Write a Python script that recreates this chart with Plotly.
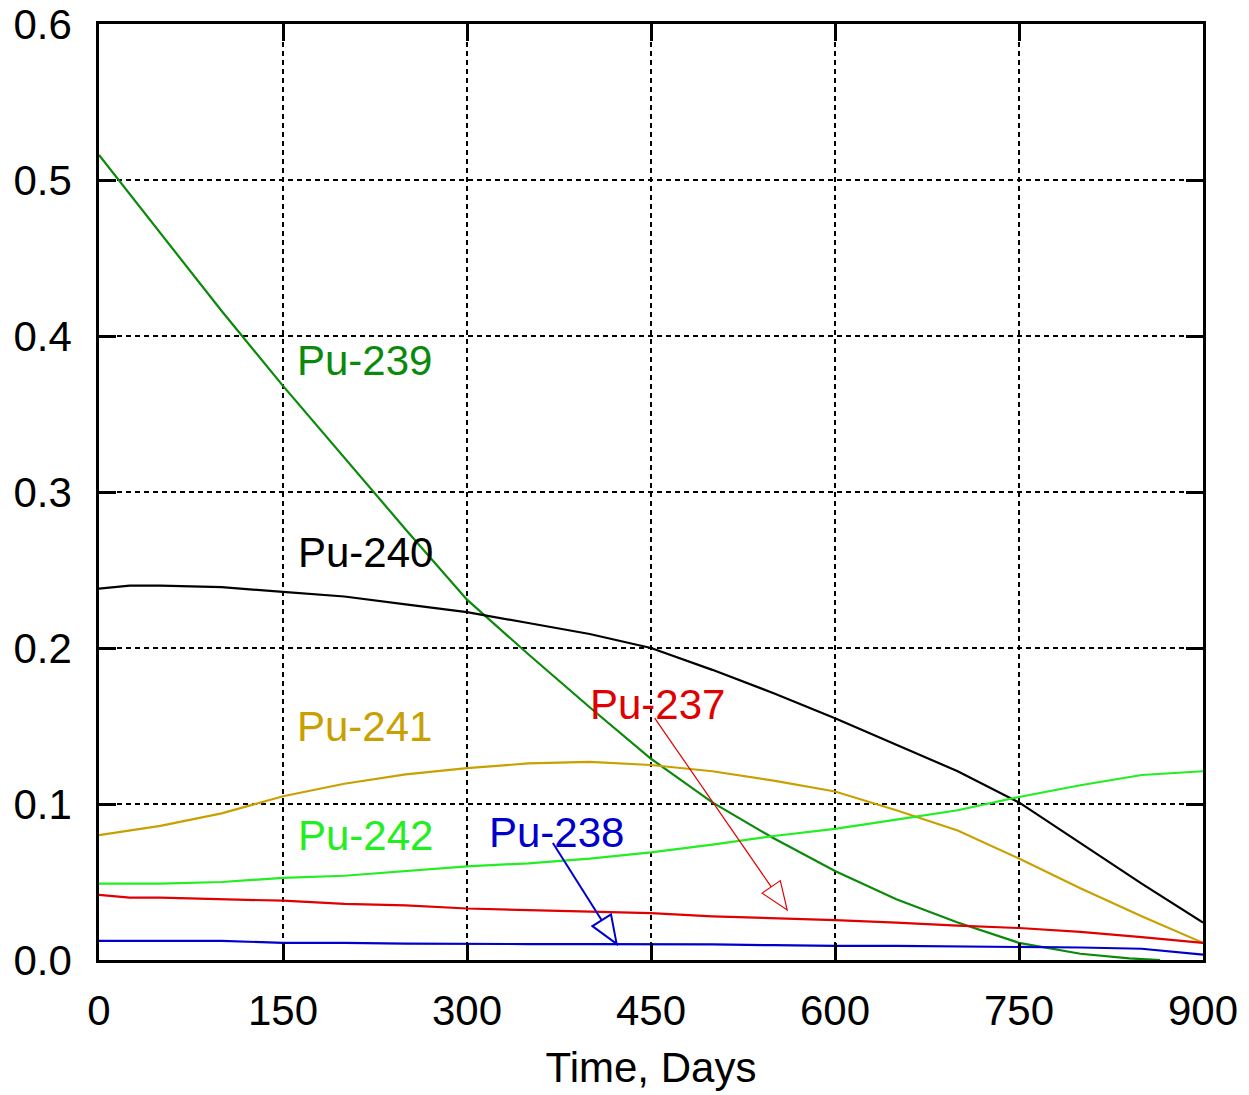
import plotly.graph_objects as go
import math

days = [0, 25, 50, 100, 150, 200, 250, 300, 350, 400, 450, 500, 550, 600, 650, 700, 750, 800, 850, 900]

pu239_days = [0, 25, 50, 100, 150, 200, 250, 300, 350, 400, 450, 500, 550, 600, 650, 700, 750, 800, 840, 865]
pu239 = [0.516, 0.491, 0.466, 0.416, 0.368, 0.322, 0.276, 0.231, 0.196, 0.162, 0.129, 0.101, 0.078, 0.057, 0.039, 0.024, 0.011, 0.004, 0.001, 0.0]
pu240 = [0.238, 0.240, 0.240, 0.239, 0.236, 0.233, 0.228, 0.223, 0.216, 0.209, 0.200, 0.186, 0.171, 0.155, 0.138, 0.121, 0.101, 0.075, 0.049, 0.024]
pu241 = [0.080, 0.083, 0.086, 0.094, 0.105, 0.113, 0.119, 0.123, 0.126, 0.127, 0.125, 0.121, 0.115, 0.108, 0.096, 0.083, 0.065, 0.046, 0.028, 0.011]
pu242 = [0.049, 0.049, 0.049, 0.050, 0.0526, 0.054, 0.057, 0.060, 0.062, 0.065, 0.069, 0.074, 0.0795, 0.084, 0.090, 0.096, 0.1045, 0.112, 0.1186, 0.121]
pu237 = [0.0417, 0.040, 0.040, 0.039, 0.038, 0.036, 0.035, 0.033, 0.032, 0.031, 0.030, 0.028, 0.027, 0.0256, 0.024, 0.022, 0.0205, 0.018, 0.0147, 0.011]
pu238 = [0.0122, 0.0122, 0.0122, 0.0122, 0.011, 0.011, 0.0105, 0.0102, 0.0102, 0.0102, 0.0102, 0.010, 0.0095, 0.009, 0.009, 0.0087, 0.0085, 0.008, 0.0072, 0.0035]

series = [
    ("Pu-239", pu239_days, pu239, "#0a8a0a"),
    ("Pu-240", days, pu240, "#000000"),
    ("Pu-241", days, pu241, "#c8a000"),
    ("Pu-242", days, pu242, "#22ee22"),
    ("Pu-237", days, pu237, "#e00000"),
    ("Pu-238", days, pu238, "#0000cc"),
]

# label positions (data coords)
labels = [
    ("Pu-239", 160, 0.384, "#0a8a0a"),
    ("Pu-240", 161, 0.261, "#000000"),
    ("Pu-241", 160, 0.1494, "#c8a000"),
    ("Pu-242", 161, 0.0795, "#22ee22"),
    ("Pu-238", 316, 0.082, "#0000cc"),
    ("Pu-237", 399, 0.164, "#e00000"),
]

# arrows: (tail_x, tail_y, tip_x, tip_y, color, width)
arrows = [
    (453, 0.1551, 561, 0.0321, "#e00000", 1.2),
    (370, 0.075, 422, 0.0103, "#0000cc", 2),
]

W, H = 1249, 1095
ML, MR, MT, MB = 99, 46, 24, 135
XR = (0, 900)
YR = (0, 0.6)
pw = W - ML - MR
ph = H - MT - MB
sx = pw / (XR[1] - XR[0])
sy = ph / (YR[1] - YR[0])

fig = go.Figure()
for name, xs, ys, col in series:
    fig.add_trace(go.Scatter(x=xs, y=ys, mode="lines", name=name,
                             line=dict(color=col, width=2.2), showlegend=False))

FONT = "Liberation Sans, Arial, sans-serif"
FS = 42
for txt, x, y, col in labels:
    fig.add_annotation(x=x, y=y, text=txt, showarrow=False, xanchor="left", yanchor="middle",
                       font=dict(family=FONT, size=FS, color=col))

for tx, ty, hx, hy, col, w in arrows:
    px0, py0 = tx * sx, -ty * sy
    px1, py1 = hx * sx, -hy * sy
    dx, dy = px1 - px0, py1 - py0
    L = math.hypot(dx, dy)
    ux, uy = dx / L, dy / L
    hl, hw = 28, 11
    bx, by = px1 - ux * hl, py1 - uy * hl
    c1 = (bx - uy * hw, by + ux * hw)
    c2 = (bx + uy * hw, by - ux * hw)
    to_d = lambda p: (p[0] / sx, -p[1] / sy)
    b = to_d((bx, by))
    a = to_d(c1)
    c = to_d(c2)
    fig.add_shape(type="line", x0=tx, y0=ty, x1=b[0], y1=b[1], line=dict(color=col, width=w))
    path = f"M {a[0]},{a[1]} L {hx},{hy} L {c[0]},{c[1]} Z"
    fig.add_shape(type="path", path=path, line=dict(color=col, width=w), fillcolor="rgba(0,0,0,0)")

axis_common = dict(
    showline=True, linecolor="black", linewidth=2.5, mirror="allticks",
    ticks="inside", ticklen=17, tickwidth=2.5, tickcolor="black",
    showgrid=True, gridcolor="black", gridwidth=1.8, griddash="5px,4px",
    zeroline=False, automargin=False,
    tickfont=dict(family=FONT, size=FS, color="black"),
)

fig.update_layout(
    width=W, height=H,
    margin=dict(l=ML, r=MR, t=MT, b=MB),
    paper_bgcolor="white", plot_bgcolor="white",
    xaxis=dict(range=list(XR), tickvals=[0, 150, 300, 450, 600, 750, 900],
               ticklabelstandoff=12,
               title=dict(text="Time, Days", font=dict(family=FONT, size=FS, color="black"), standoff=20),
               **axis_common),
    yaxis=dict(range=list(YR), tickvals=[0, 0.1, 0.2, 0.3, 0.4, 0.5, 0.6], tickformat=".1f",
               ticklabelstandoff=16, **axis_common),
)

fig.write_html("out.html")
